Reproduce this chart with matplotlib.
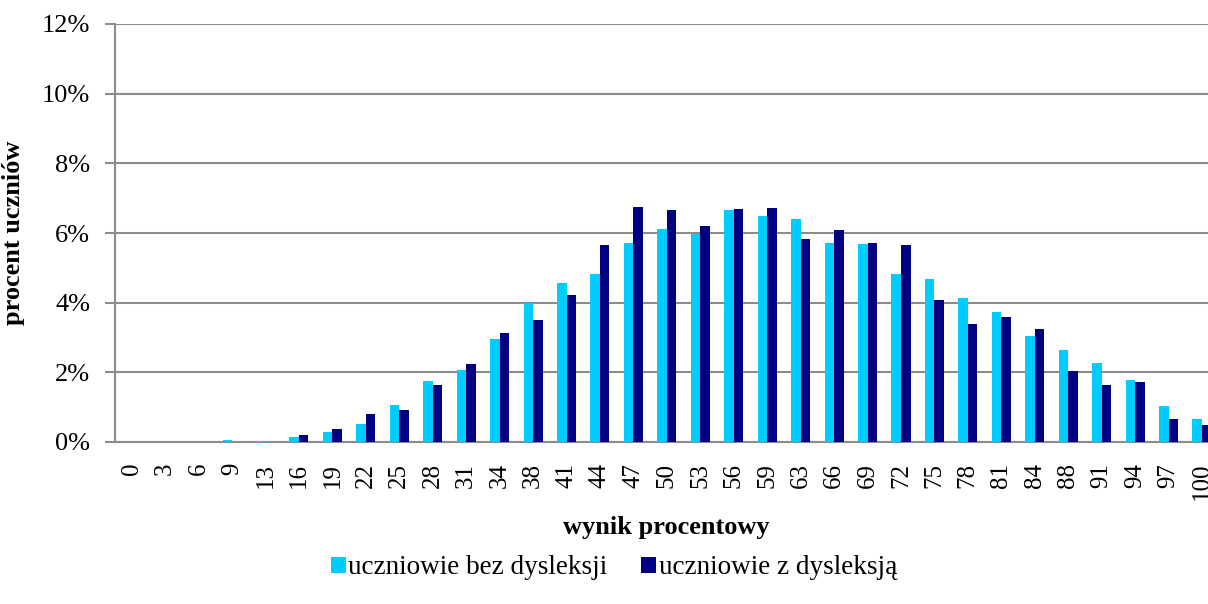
#!/usr/bin/env python3
import numpy as np
import matplotlib
matplotlib.use('Agg')
import matplotlib.pyplot as plt
from matplotlib.ticker import FuncFormatter

# categories (wynik procentowy)
wyniki = ['0', '3', '6', '9', '13', '16', '19', '22', '25', '28', '31', '34',
          '38', '41', '44', '47', '50', '53', '56', '59', '63', '66', '69',
          '72', '75', '78', '81', '84', '88', '91', '94', '97', '100']

# percent of students
bez_dysleksji = [0.0, 0.0, 0.0, 0.05, 0.03, 0.14, 0.29, 0.53, 1.06, 1.75,
                 2.07, 2.95, 3.98, 4.56, 4.83, 5.70, 6.11, 5.98, 6.65, 6.50,
                 6.39, 5.71, 5.68, 4.82, 4.68, 4.12, 3.73, 3.04, 2.64, 2.27,
                 1.78, 1.02, 0.67]
z_dysleksja = [0.0, 0.0, 0.0, 0.0, 0.0, 0.19, 0.37, 0.79, 0.91, 1.65,
               2.23, 3.14, 3.51, 4.23, 5.66, 6.76, 6.65, 6.20, 6.68, 6.72,
               5.82, 6.08, 5.70, 5.65, 4.07, 3.39, 3.58, 3.24, 2.03, 1.63,
               1.72, 0.67, 0.49]

plt.rcParams['font.family'] = ['Liberation Serif', 'DejaVu Serif']

fig = plt.figure(figsize=(12.08, 6.04), dpi=100)
ax = fig.add_axes([115 / 1208, 1 - 442 / 604, 1 - 115 / 1208, (442 - 24) / 604])

x = np.arange(len(wyniki))
w = 0.285
ax.bar(x - w / 2, bez_dysleksji, w, color='#00ccff', label='uczniowie bez dysleksji', zorder=3)
ax.bar(x + w / 2, z_dysleksja, w, color='#000080', label='uczniowie z dysleksją', zorder=3)

ax.set_xlim(-0.5, 32.18)
ax.set_ylim(0, 12)
ax.set_yticks(np.arange(0, 13, 2))
ax.yaxis.set_major_formatter(FuncFormatter(lambda v, p: '%d%%' % v))
ax.yaxis.grid(True, color='#8c8c8c', linewidth=1.5, zorder=0)

ax.set_xticks(x)
ax.set_xticklabels(wyniki, rotation=90, va='top', ha='center')
ax.tick_params(axis='x', length=0, pad=15, labelsize=18)
ax.tick_params(axis='y', length=7, width=1.5, color='#8c8c8c', labelsize=19, pad=11)

for side in ['top', 'right']:
    ax.spines[side].set_visible(False)
for side in ['left', 'bottom']:
    ax.spines[side].set_color('#8c8c8c')
    ax.spines[side].set_linewidth(1.5)

ax.set_xlabel('wynik procentowy', fontsize=19, fontweight='bold', labelpad=10)
ax.xaxis.set_label_coords((666 - 115) / (1208 - 115), -0.178)
ax.set_ylabel('procent uczniów', fontsize=19, fontweight='bold', labelpad=12)

leg = fig.legend(loc='center', bbox_to_anchor=(614 / 1208, 1 - 568 / 604), ncol=2,
                 frameon=False, fontsize=19.5, handlelength=0.55, handleheight=0.55,
                 handletextpad=0.1, columnspacing=1.25)

fig.savefig('out.png', dpi=100)
